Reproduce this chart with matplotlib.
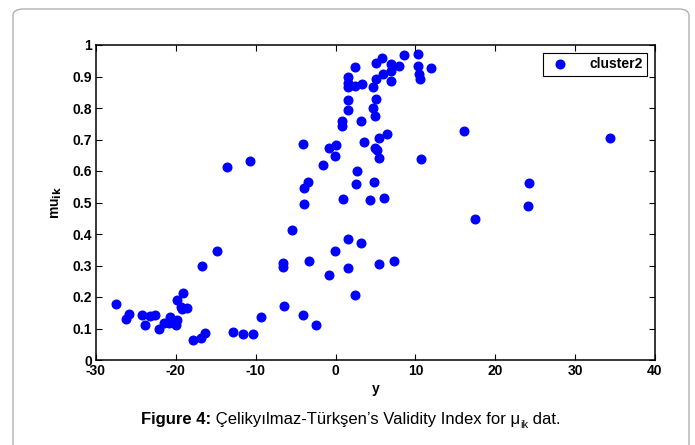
import matplotlib
matplotlib.use("Agg")
import matplotlib.pyplot as plt
from matplotlib import font_manager
from matplotlib.patches import FancyBboxPatch

# Membership values of cluster 2 against y
y_vals = [-27.5, -26.2, -25.9, -24.3, -23.9, -23.2, -22.6, -22.1, -21.5, -20.8,
          -20.7, -20.3, -19.9, -20.0, -19.9, -19.1, -19.3, -19.2, -18.6, -17.9,
          -16.8, -16.3, -16.7, -14.9, -13.6, -10.7, -12.9, -11.6, -10.4, -9.4,
          -6.4, -4.05, -2.5, -6.6, -6.55, -3.3, -5.4, -4.05, -3.4, -3.9,
          -3.9, -1.55, -0.8, 0.0, -0.05, 0.9, -0.8, -0.05, 1.6, 3.2,
          1.6, 2.45, 5.5, 7.3, 0.75, 0.75, 1.6, 1.6, 1.6, 2.4,
          3.25, 2.45, 1.6, 1.6, 3.2, 3.55, 2.7, 2.6, 4.3, 4.8,
          6.1, 4.9, 5.2, 5.4, 6.5, 5.5, 4.7, 5.1, 5.1, 4.7,
          4.9, 5.1, 5.8, 6.0, 6.9, 7.0, 6.9, 7.9, 8.6, 10.35,
          10.35, 10.5, 10.6, 11.9, 10.7, 16.05, 17.5, 24.2, 24.1, 34.4]
mu_vals = [0.177, 0.129, 0.145, 0.143, 0.110, 0.140, 0.143, 0.098, 0.116, 0.118,
           0.138, 0.124, 0.127, 0.112, 0.190, 0.214, 0.169, 0.161, 0.166, 0.063,
           0.070, 0.087, 0.300, 0.345, 0.612, 0.631, 0.090, 0.081, 0.083, 0.135,
           0.171, 0.143, 0.110, 0.307, 0.296, 0.315, 0.413, 0.685, 0.566, 0.547,
           0.494, 0.618, 0.673, 0.681, 0.648, 0.510, 0.269, 0.345, 0.384, 0.370,
           0.292, 0.205, 0.306, 0.315, 0.760, 0.743, 0.900, 0.880, 0.868, 0.871,
           0.875, 0.931, 0.824, 0.794, 0.760, 0.693, 0.600, 0.558, 0.508, 0.566,
           0.513, 0.673, 0.667, 0.704, 0.717, 0.642, 0.866, 0.892, 0.830, 0.799,
           0.776, 0.942, 0.959, 0.908, 0.939, 0.917, 0.887, 0.934, 0.967, 0.970,
           0.934, 0.907, 0.893, 0.928, 0.637, 0.727, 0.447, 0.561, 0.488, 0.704]

x_ticks = [-30, -20, -10, 0, 10, 20, 30, 40]
y_ticks = [0, 0.1, 0.2, 0.3, 0.4, 0.5, 0.6, 0.7, 0.8, 0.9, 1]
y_tick_labels = ["0", "0.1", "0.2", "0.3", "0.4", "0.5", "0.6", "0.7", "0.8", "0.9", "1"]
series_name = "cluster2"

installed = {f.name for f in font_manager.fontManager.ttflist}
base_font = "Liberation Sans" if "Liberation Sans" in installed else "DejaVu Sans"
caption_font = "Liberation Sans Narrow" if "Liberation Sans Narrow" in installed else base_font
plt.rcParams["font.family"] = [base_font, "DejaVu Sans"]

W, H = 695, 445
fig = plt.figure(figsize=(W / 100, H / 100), dpi=100)

# Rounded frame around the whole figure
frame = FancyBboxPatch((13 / W, -20 / H), (689 - 13) / W, (H - 9 + 20) / H,
                       boxstyle="round,pad=0,rounding_size=0.015",
                       transform=fig.transFigure, facecolor="none",
                       edgecolor="#b0b0b0", linewidth=1.0, zorder=-1)
fig.patches.append(frame)

ax = fig.add_axes([96 / W, 1 - 360 / H, (655 - 96) / W, (360 - 45) / H])
ax.plot(y_vals, mu_vals, linestyle="none", marker="o", markersize=6.2,
        color="#0000ff", label=series_name)

ax.set_xlim(-30, 40)
ax.set_ylim(0, 1)
ax.set_xticks(x_ticks)
ax.set_xticklabels([str(t) for t in x_ticks], fontweight="bold", fontsize=10)
ax.set_yticks(y_ticks)
ax.set_yticklabels(y_tick_labels, fontweight="bold", fontsize=10)
ax.tick_params(direction="in", length=4, width=0.8, top=True, right=True, pad=3)
for s in ax.spines.values():
    s.set_linewidth(1.1)

ax.set_xlabel("y", fontweight="bold", fontsize=10, labelpad=3)
ax.set_ylabel(r"mu$_{\mathbf{ik}}$", fontweight="bold", fontsize=10, labelpad=6)

leg = ax.legend(loc="upper right", prop={"weight": "bold", "size": 10},
                fancybox=False, edgecolor="black", framealpha=1,
                borderaxespad=0.6, handletextpad=1.2, borderpad=0.3,
                handlelength=1.8)
leg.get_frame().set_linewidth(0.8)

# Caption: bold label, plain text, subscript
fig.canvas.draw()
renderer = fig.canvas.get_renderer()
cap_y = 1 - 424 / H
pieces = [("Figure 4:", "bold", 12, 0),
          (" Çelikyılmaz-Türkşen’s Validity Index for μ", "normal", 12, 0),
          ("ik", "normal", 8, -4),
          (" dat.", "normal", 12, 0)]
texts = []
total = 0
for s, w, fs, dy in pieces:
    t = fig.text(0, cap_y + dy / H, s, fontweight=w, fontsize=fs,
                 family=[caption_font, "DejaVu Sans"], va="baseline", ha="left")
    wpx = t.get_window_extent(renderer).width
    texts.append((t, wpx, dy))
    total += wpx
x0 = 351 - total / 2
for t, wpx, dy in texts:
    t.set_x(x0 / W)
    x0 += wpx

fig.savefig("out.png", dpi=100)
